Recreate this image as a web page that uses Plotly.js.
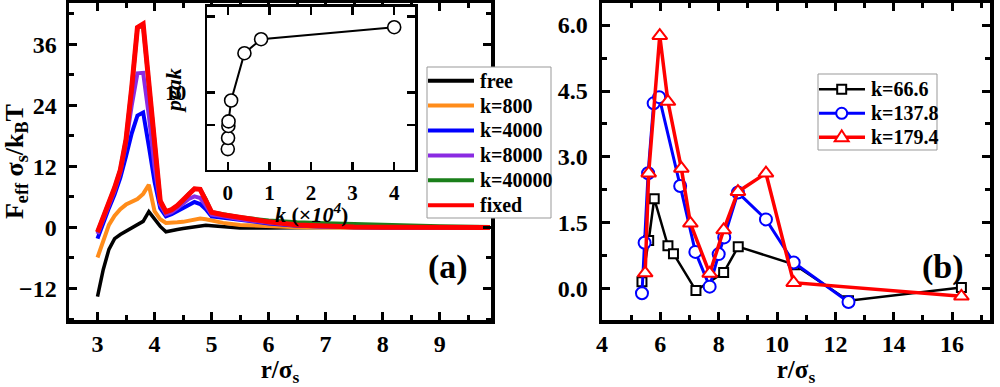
<!DOCTYPE html>
<html><head><meta charset="utf-8">
<script src="https://cdn.plot.ly/plotly-3.0.1.min.js"></script>
<style>html,body{margin:0;padding:0;background:#fff}#chart{width:1000px;height:387px}</style>
</head><body><div id="chart"></div>
<script>
// ---- panel (a) data ----
const rGrid   = [3.0,3.1,3.2,3.3,3.4,3.5,3.6,3.7,3.8,3.9,4.0,4.1,4.2,4.3,4.4,4.5,4.6,4.7,4.8,4.9,5.0,5.2,5.5,6.0,6.5,7.0,7.5,8.0,8.5,9.0,9.88];
const freeY   = [-13.6,-8.3,-4.3,-2.2,-1.4,-0.7,-0.1,0.5,1.2,3.1,1.6,0.2,-0.85,-0.7,-0.4,-0.2,0.0,0.2,0.35,0.45,0.35,0.15,-0.1,-0.1,0,0,0,0,0,0,0];
const k800Y   = [-5.9,-2.5,0.5,2.3,3.6,4.5,5.1,5.6,6.6,8.4,3.2,1.6,0.9,0.9,1.0,1.1,1.3,1.6,1.75,1.6,1.3,0.9,0.5,0.2,0.05,0,0,0,0,0,0];
const k4000Y  = [-2.2,1.0,3.8,6.5,9.8,14,18.5,22.0,22.6,16,9,3.8,2.2,2.6,3.2,3.8,4.5,5.0,4.6,3.6,2.2,1.9,1.4,0.8,0.35,0.1,0.02,0,0,0,0];
const k8000Y  = [-1.3,1.6,4.3,7.2,10.8,16.5,24,30.3,30.4,22,12,4.5,2.6,3.0,3.8,4.6,5.6,6.1,5.8,4.3,2.5,2.2,1.6,0.9,0.4,0.15,0.05,0,0,0,0];
const k40000Y = [-0.9,2.0,4.8,7.8,11.3,17.3,27.5,39.2,39.8,28,15,5.2,3.1,3.5,4.3,5.3,6.6,7.6,7.5,5.5,3.0,2.6,2.0,1.35,1.0,0.85,0.65,0.5,0.4,0.25,0.1];
const fixedY  = [-0.9,2.0,4.8,7.8,11.3,17.3,27.5,39.3,40.0,28,15,5.2,3.1,3.5,4.3,5.3,6.6,7.6,7.5,5.5,3.0,2.5,1.9,1.1,0.5,0.2,0.1,0.05,0,0,0];
const seriesNames  = ['free','k=800','k=4000','k=8000','k=40000','fixed'];
const seriesColors = ['#000000','#ff8c1a','#0000ff','#8a2be2','#1a7f1a','#ff0000'];
// inset
const insetK    = [0, 0.00666, 0.01378, 0.01794, 0.08, 0.4, 0.8, 4];
const insetPeak = [3.0, 3.8, 4.9, 5.4, 8.4, 22.9, 30.8, 39.7];
const insetTickVals = [5, 10, 50];
const insetTickText = [' ', '10', ' '];
// ---- panel (b) data ----
const b66X  = [5.37,5.6,5.79,6.26,6.45,7.22,8.17,8.67,10.6,12.45,16.32];
const b66Y  = [0.16,1.1,2.05,0.98,0.8,-0.04,0.37,0.96,0.55,-0.27,0.03];
const b137X = [5.37,5.46,5.58,5.77,5.96,6.68,7.2,7.69,8.0,8.19,8.66,9.62,10.57,12.45];
const b137Y = [-0.1,1.05,2.63,4.22,4.36,2.34,0.84,0.05,0.79,1.17,2.19,1.58,0.6,-0.3];
const b179X = [5.48,5.6,5.98,6.26,6.72,7.03,7.69,8.17,8.66,9.62,10.57,16.32];
const b179Y = [0.36,2.63,5.76,4.26,2.74,1.49,0.35,1.34,2.21,2.63,0.14,-0.17];
const bNames = ['k=66.6','k=137.8','k=179.4'];
const bColors = ['#000000','#0000ff','#ff0000'];
const bSymbols = ['square','circle','triangle-up'];

const FONT = 'Liberation Serif, Times New Roman, serif';
const W = 1000, H = 387;
const px = x => x / W, py = y => 1 - y / H;

const aY = [freeY,k800Y,k4000Y,k8000Y,k40000Y,fixedY];
const widths = [3.5,4,4,4,4,5];
const traces = [];
aY.forEach((ys,i) => traces.push({
  x: rGrid, y: ys, type:'scatter', mode:'lines', name: seriesNames[i],
  line:{color:seriesColors[i], width:widths[i]}, xaxis:'x', yaxis:'y', showlegend:false
}));
traces.push({x:insetK, y:insetPeak, type:'scatter', mode:'lines+markers', name:'peak',
  line:{color:'#000', width:2}, marker:{symbol:'circle', size:13, color:'#fff', line:{color:'#000', width:1.6}},
  xaxis:'x3', yaxis:'y3', showlegend:false});
const bXs=[b66X,b137X,b179X], bYs=[b66Y,b137Y,b179Y], bW=[2.5,3,3.5], bS=[9,12,13];
bXs.forEach((xs,i)=>traces.push({x:xs,y:bYs[i],type:'scatter',mode:'lines+markers',name:bNames[i],
  line:{color:bColors[i],width:bW[i]},
  marker:{symbol:bSymbols[i],size:bS[i],color:'#fff',line:{color:bColors[i],width:2}},
  xaxis:'x2',yaxis:'y2',showlegend:false}));

const tickF = {family:FONT, size:24, color:'#000', weight:'bold'};
function ax(o){ return Object.assign({showgrid:false, zeroline:false, showline:true, linecolor:'#000', linewidth:3.5,
  mirror:'ticks', ticks:'inside', ticklen:8, tickwidth:3, tickcolor:'#000', tickfont:tickF}, o); }

// legends (drawn as shapes + text)
const shapes = [], annotations = [];
shapes.push({type:'rect', xref:'paper', yref:'paper', x0:px(427), x1:px(551), y0:py(67), y1:py(218),
  fillcolor:'#fff', line:{color:'#999', width:1}, layer:'above'});
seriesNames.forEach((n,i)=>{
  const yy = 80.7 + 24.9*i;
  shapes.push({type:'line', xref:'paper', yref:'paper', x0:px(428), x1:px(474), y0:py(yy), y1:py(yy),
    line:{color:seriesColors[i], width:4}, layer:'above'});
  annotations.push({xref:'paper', yref:'paper', x:px(478), y:py(yy), xanchor:'left', yanchor:'middle',
    text:n, showarrow:false, font:{family:FONT, size:20, color:'#000', weight:'bold'}});
});
shapes.push({type:'rect', xref:'paper', yref:'paper', x0:px(818), x1:px(937), y0:py(74), y1:py(150),
  fillcolor:'#fff', line:{color:'#999', width:1}, layer:'above'});
bNames.forEach((n,i)=>{
  const yy = 89.3 + 24*i;
  shapes.push({type:'line', xref:'paper', yref:'paper', x0:px(819), x1:px(865), y0:py(yy), y1:py(yy),
    line:{color:bColors[i], width:bW[i]}, layer:'above'});
  const cx = 841.7;
  if (i===0) shapes.push({type:'rect', xref:'paper', yref:'paper', x0:px(cx-4.5), x1:px(cx+4.5), y0:py(yy-4.5), y1:py(yy+4.5),
    fillcolor:'#fff', line:{color:bColors[i], width:2}, layer:'above'});
  if (i===1) shapes.push({type:'circle', xref:'paper', yref:'paper', x0:px(cx-5.5), x1:px(cx+5.5), y0:py(yy-5.5), y1:py(yy+5.5),
    fillcolor:'#fff', line:{color:bColors[i], width:2}, layer:'above'});
  if (i===2) shapes.push({type:'path', xref:'paper', yref:'paper',
    path:`M ${px(cx-7)} ${py(yy+4)} L ${px(cx+7)} ${py(yy+4)} L ${px(cx)} ${py(yy-7)} Z`,
    fillcolor:'#fff', line:{color:bColors[i], width:2}, layer:'above'});
  annotations.push({xref:'paper', yref:'paper', x:px(869), y:py(yy), xanchor:'left', yanchor:'middle',
    text:n, showarrow:false, font:{family:FONT, size:20, color:'#000', weight:'bold'}});
});
const C = {xanchor:'center', yanchor:'middle', showarrow:false, xref:'paper', yref:'paper'};
annotations.push(Object.assign({x:px(448), y:py(267), text:'(a)',
  font:{family:FONT, size:34, color:'#000', weight:'bold'}}, C));
annotations.push(Object.assign({x:px(943), y:py(267), text:'(b)',
  font:{family:FONT, size:34, color:'#000', weight:'bold'}}, C));
annotations.push(Object.assign({x:px(173), y:py(91), text:'<i>peak</i>', textangle:-90,
  font:{family:FONT, size:22, color:'#000', weight:'bold'}}, C));
annotations.push(Object.assign({x:px(311), y:py(213), text:'<i>k</i> (×<i>10<sup>4</sup></i>)',
  font:{family:FONT, size:22, color:'#000', weight:'bold'}}, C));

const titleF = {family:FONT, size:26, color:'#000', weight:'bold'};
const xTitleF = {family:FONT, size:25, color:'#000', weight:'bold'};
const layout = {
  width:W, height:H, margin:{l:0,r:0,t:0,b:0}, paper_bgcolor:'#fff', plot_bgcolor:'#fff', showlegend:false,
  xaxis: ax({domain:[0.069,0.491], range:[2.5,9.9], tick0:0, dtick:1, anchor:'y',
    minor:{dtick:0.5, ticks:'inside', ticklen:5, tickwidth:3, tickcolor:'#000'}, ticklabelstandoff:0,
    title:{text:'r/σ<sub>s</sub>', font:xTitleF, standoff:7}}),
  yaxis: ax({domain:[0.173,0.992], range:[-18.2,44.1], tick0:0, dtick:12, anchor:'x',
    minor:{dtick:6, ticks:'inside', ticklen:5, tickwidth:3, tickcolor:'#000'}, ticklabelstandoff:4,
    title:{text:'F<sub>eff</sub> σ<sub>s</sub>/k<sub>B</sub>T', font:titleF, standoff:0}}),
  xaxis2: ax({domain:[0.602,0.990], range:[4,17.3], tick0:0, dtick:2, anchor:'y2',
    minor:{dtick:1, ticks:'inside', ticklen:5, tickwidth:3, tickcolor:'#000'}, ticklabelstandoff:0,
    title:{text:'r/σ<sub>s</sub>', font:xTitleF, standoff:7}}),
  yaxis2: ax({domain:[0.173,0.992], range:[-0.71,6.5], tick0:0, dtick:1.5, tickformat:'.1f', anchor:'x2',
    minor:{dtick:0.75, ticks:'inside', ticklen:5, tickwidth:3, tickcolor:'#000'}, ticklabelstandoff:6}),
  xaxis3: ax({domain:[0.207,0.415], range:[-0.5,4.5], tick0:0, dtick:1, anchor:'y3', linewidth:2.5, tickwidth:2.5,
    tickfont:{family:FONT, size:21, color:'#000', weight:'bold'}, ticklabelstandoff:2}),
  yaxis3: ax({domain:[0.561,0.982], type:'log', range:[0.286,1.785], tickvals:insetTickVals, ticktext:insetTickText, anchor:'x3',
    linewidth:2.5, tickwidth:2.5, tickfont:{family:FONT, size:21, color:'#000', weight:'bold'}, ticklabelstandoff:14}),
  shapes, annotations
};
Plotly.newPlot('chart', traces, layout, {staticPlot:true, displayModeBar:false});
</script></body></html>
